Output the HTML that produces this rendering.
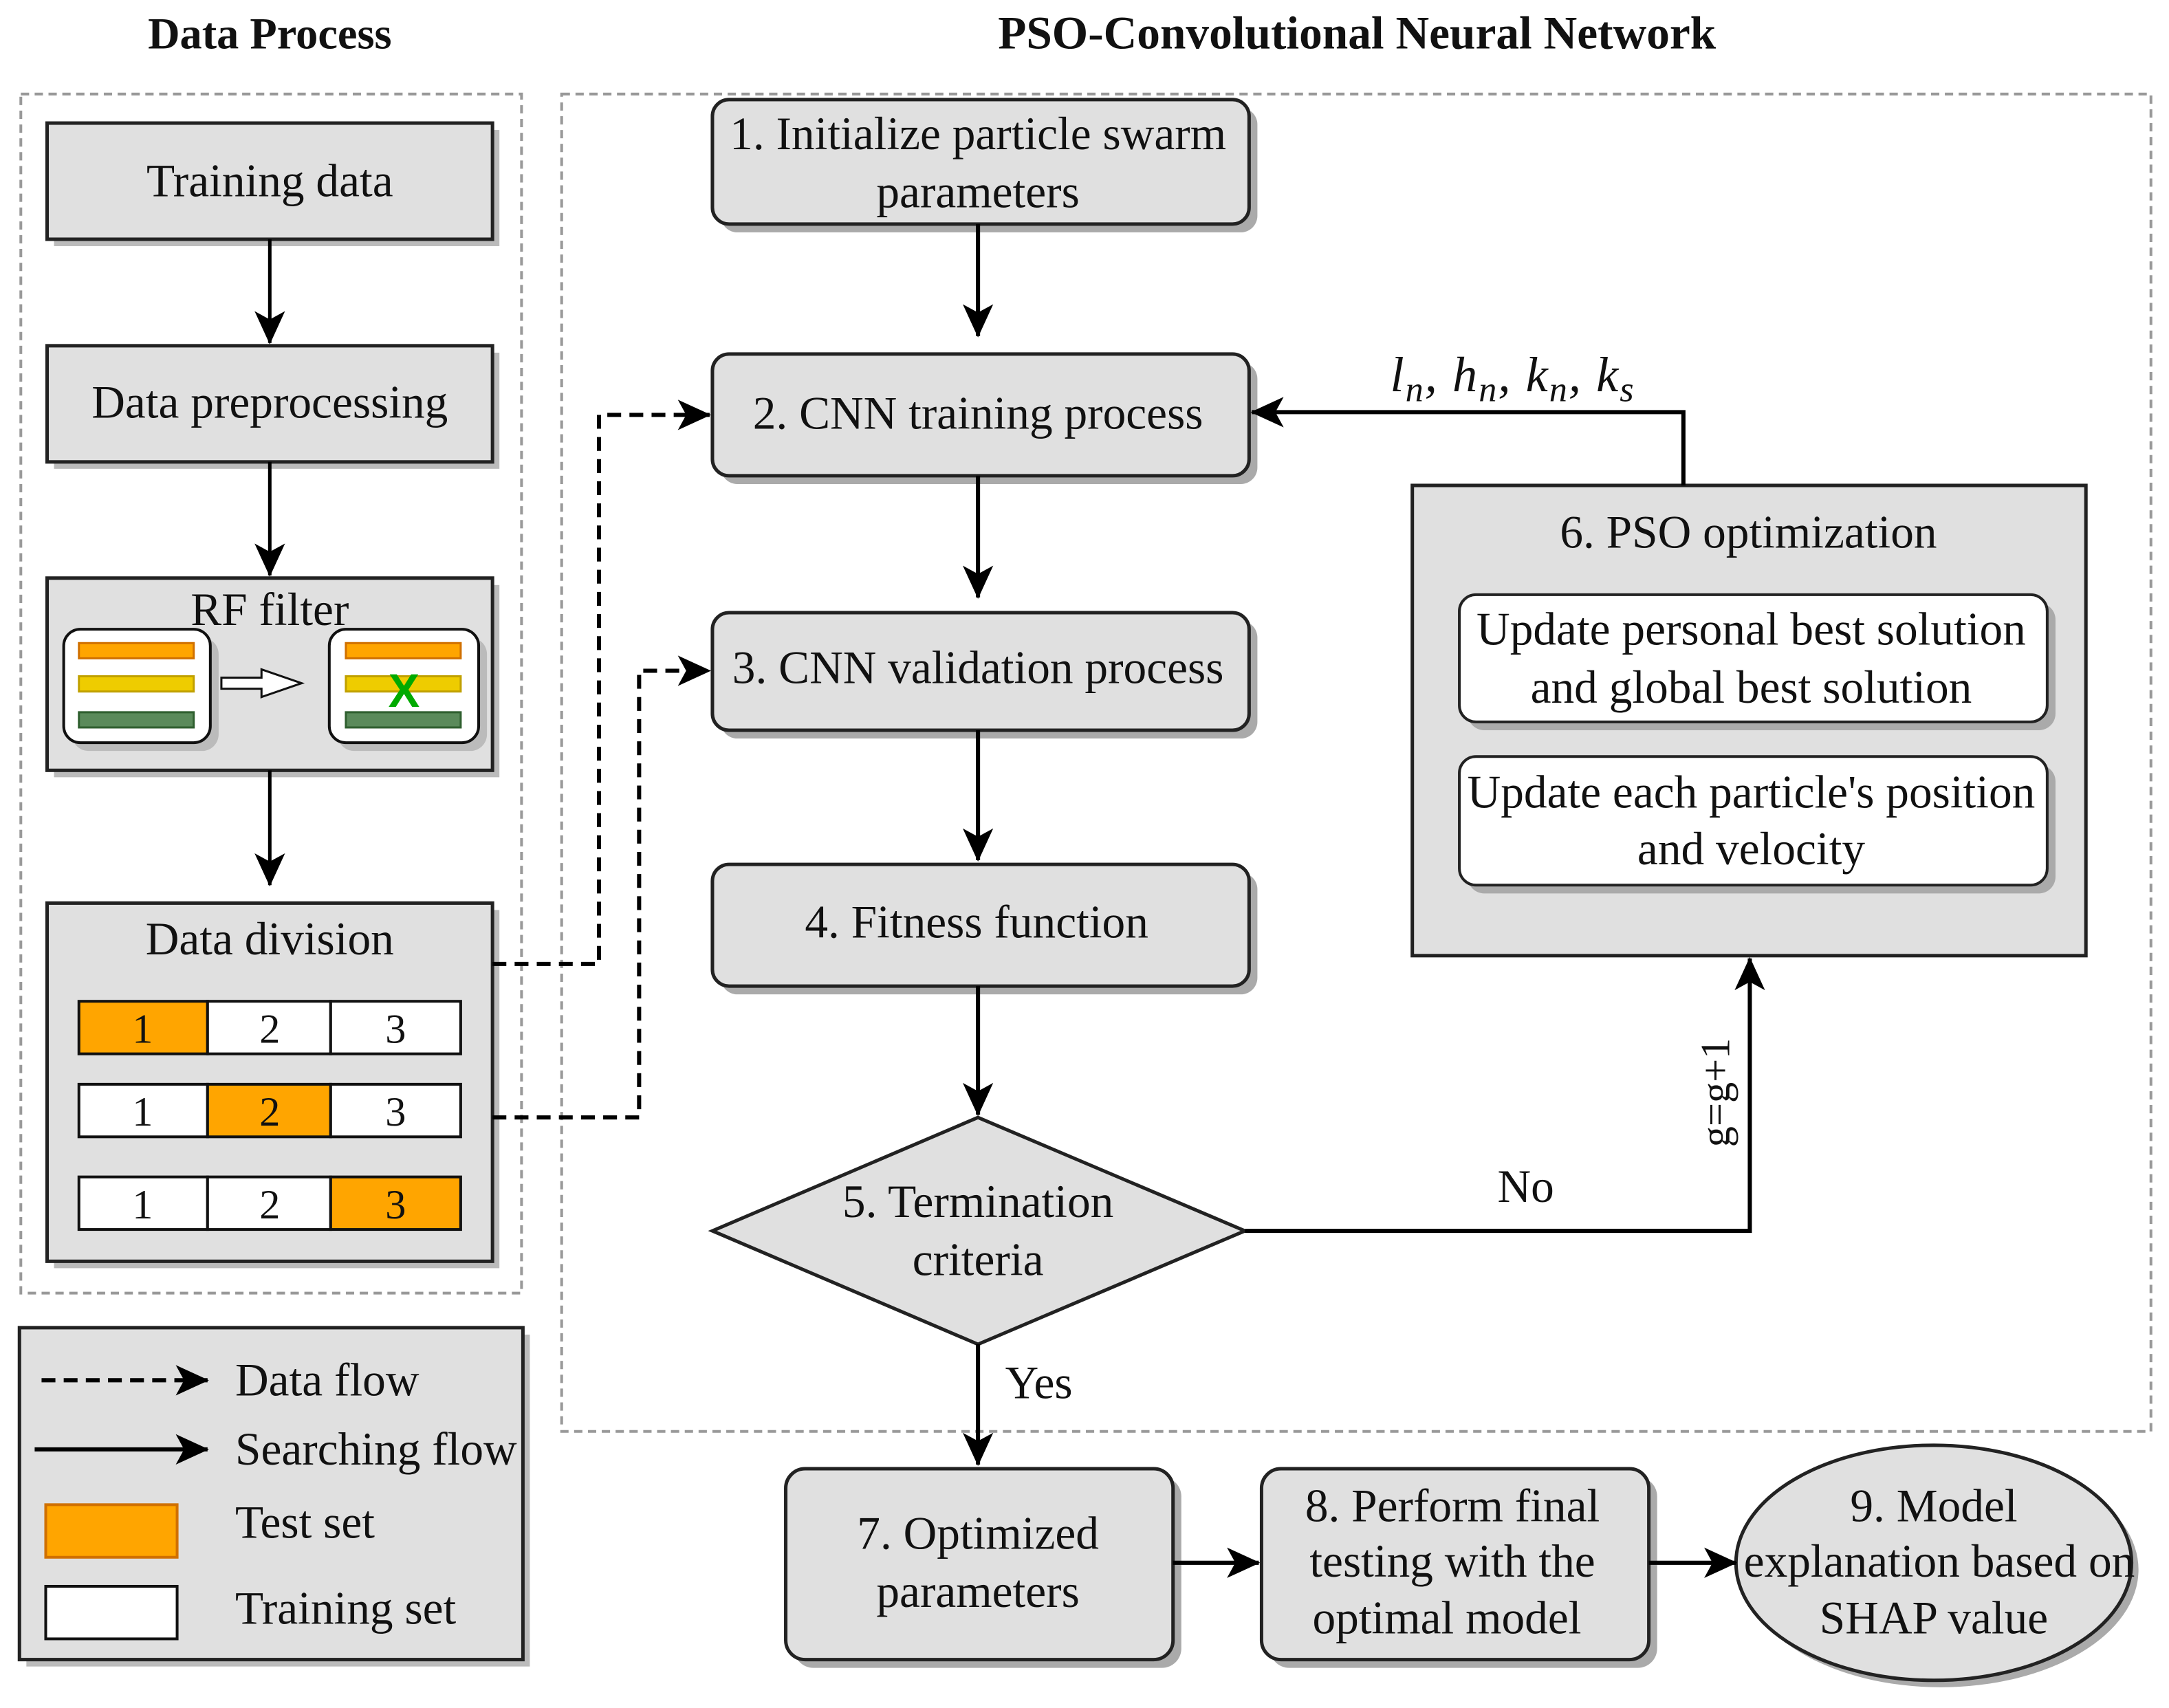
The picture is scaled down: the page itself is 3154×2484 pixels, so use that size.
<!DOCTYPE html>
<html><head><meta charset="utf-8"><style>
html,body{margin:0;padding:0;background:#fff}
svg{display:block}
text{font-family:"Liberation Serif",serif;fill:#111}
</style></head><body>
<svg width="3154" height="2484" viewBox="0 0 1568 1235" xmlns="http://www.w3.org/2000/svg">
<defs>
<marker id="ahb" markerWidth="24" markerHeight="22" refX="23" refY="11" orient="auto" markerUnits="userSpaceOnUse" viewBox="0 0 24 22">
<path d="M0,0 L24,11 L0,22 L6,11 z" fill="#000"/></marker>
</defs>
<g font-size="33.5">
<text x="195" y="35" text-anchor="middle" font-weight="bold" font-size="32">Data Process</text>
<text x="981" y="35" text-anchor="middle" font-weight="bold" font-size="33.5">PSO-Convolutional Neural Network</text>

<rect x="15" y="68" width="362" height="867" fill="none" stroke="#999" stroke-width="2" stroke-dasharray="6,4"/>
<rect x="406" y="68" width="1149" height="967" fill="none" stroke="#999" stroke-width="2" stroke-dasharray="6,4"/>

<g stroke="#222" stroke-width="2.5" fill="#e0e0e0">
<rect x="39" y="94" width="322" height="84" fill="#bbb" stroke="none"/>
<rect x="34" y="89" width="322" height="84"/>
<rect x="39" y="255" width="322" height="84" fill="#bbb" stroke="none"/>
<rect x="34" y="250" width="322" height="84"/>
<rect x="39" y="423" width="322" height="139" fill="#bbb" stroke="none"/>
<rect x="34" y="418" width="322" height="139"/>
<rect x="39" y="658" width="322" height="259" fill="#bbb" stroke="none"/>
<rect x="34" y="653" width="322" height="259"/>
</g>
<text x="195" y="142" text-anchor="middle">Training data</text>
<text x="195" y="302" text-anchor="middle">Data preprocessing</text>
<text x="195" y="452" text-anchor="middle">RF filter</text>
<text x="195" y="690" text-anchor="middle">Data division</text>

<rect x="52" y="461" width="106" height="82" rx="12" fill="#bbb"/>
<rect x="46" y="455" width="106" height="82" rx="12" fill="#fff" stroke="#111" stroke-width="2"/>
<rect x="244" y="461" width="108" height="82" rx="12" fill="#bbb"/>
<rect x="238" y="455" width="108" height="82" rx="12" fill="#fff" stroke="#111" stroke-width="2"/>
<g stroke-width="1.5">
<rect x="57" y="465" width="83" height="11" fill="#ffa500" stroke="#d07000"/>
<rect x="57" y="489" width="83" height="11" fill="#eecc00" stroke="#c0a000"/>
<rect x="57" y="515" width="83" height="11" fill="#5a8a5a" stroke="#2f5f2f"/>
<rect x="250" y="465" width="83" height="11" fill="#ffa500" stroke="#d07000"/>
<rect x="250" y="489" width="83" height="11" fill="#eecc00" stroke="#c0a000"/>
<rect x="250" y="515" width="83" height="11" fill="#5a8a5a" stroke="#2f5f2f"/>
</g>
<text x="292" y="511" text-anchor="middle" font-weight="bold" font-size="34" style="fill:#0a0;font-family:'Liberation Sans',sans-serif">X</text>
<path d="M160,490 L189,490 L189,484 L218,494 L189,504 L189,498 L160,498 z" fill="#fff" stroke="#111" stroke-width="1.5"/>

<g stroke="#111" stroke-width="2">
<rect x="57" y="724" width="93" height="38" fill="#ffa500"/><rect x="150" y="724" width="89" height="38" fill="#fff"/><rect x="239" y="724" width="94" height="38" fill="#fff"/>
<rect x="57" y="784" width="93" height="38" fill="#fff"/><rect x="150" y="784" width="89" height="38" fill="#ffa500"/><rect x="239" y="784" width="94" height="38" fill="#fff"/>
<rect x="57" y="851" width="93" height="38" fill="#fff"/><rect x="150" y="851" width="89" height="38" fill="#fff"/><rect x="239" y="851" width="94" height="38" fill="#ffa500"/>
</g>
<g text-anchor="middle" font-size="30">
<text x="103" y="754">1</text><text x="195" y="754">2</text><text x="286" y="754">3</text>
<text x="103" y="814">1</text><text x="195" y="814">2</text><text x="286" y="814">3</text>
<text x="103" y="881">1</text><text x="195" y="881">2</text><text x="286" y="881">3</text>
</g>

<g stroke="#000" stroke-width="2.5" fill="none">
<line x1="195" y1="173" x2="195" y2="248" marker-end="url(#ahb)"/>
<line x1="195" y1="334" x2="195" y2="416" marker-end="url(#ahb)"/>
<line x1="195" y1="557" x2="195" y2="640" marker-end="url(#ahb)"/>
</g>

<rect x="19" y="965" width="364" height="240" fill="#bbb"/>
<rect x="14" y="960" width="364" height="240" fill="#e0e0e0" stroke="#222" stroke-width="2.5"/>
<line x1="30" y1="998" x2="150" y2="998" stroke="#000" stroke-width="3" stroke-dasharray="10,6" marker-end="url(#ahb)"/>
<line x1="25" y1="1048" x2="150" y2="1048" stroke="#000" stroke-width="3" marker-end="url(#ahb)"/>
<rect x="33" y="1088" width="95" height="38" fill="#ffa500" stroke="#d07000" stroke-width="2"/>
<rect x="33" y="1147" width="95" height="38" fill="#fff" stroke="#111" stroke-width="2"/>
<text x="170" y="1009">Data flow</text>
<text x="170" y="1059">Searching flow</text>
<text x="170" y="1112">Test set</text>
<text x="170" y="1174">Training set</text>

<g stroke="#222" stroke-width="2.5" fill="#e0e0e0">
<rect x="521" y="78" width="388" height="90" rx="12" fill="#aaa" stroke="none"/>
<rect x="515" y="72" width="388" height="90" rx="12"/>
<rect x="521" y="262" width="388" height="88" rx="12" fill="#aaa" stroke="none"/>
<rect x="515" y="256" width="388" height="88" rx="12"/>
<rect x="521" y="449" width="388" height="85" rx="12" fill="#aaa" stroke="none"/>
<rect x="515" y="443" width="388" height="85" rx="12"/>
<rect x="521" y="631" width="388" height="88" rx="12" fill="#aaa" stroke="none"/>
<rect x="515" y="625" width="388" height="88" rx="12"/>
<path d="M707,808 L900,890 L707,972 L515,890 z"/>
<rect x="574" y="1068" width="280" height="138" rx="14" fill="#aaa" stroke="none"/>
<rect x="568" y="1062" width="280" height="138" rx="14"/>
<rect x="918" y="1068" width="280" height="138" rx="14" fill="#aaa" stroke="none"/>
<rect x="912" y="1062" width="280" height="138" rx="14"/>
<ellipse cx="1403" cy="1135" rx="143" ry="85" fill="#aaa" stroke="none"/>
<ellipse cx="1398" cy="1130" rx="143" ry="85"/>
<rect x="1021" y="351" width="487" height="340"/>
</g>
<g stroke="#222" stroke-width="2" fill="#fff">
<rect x="1061" y="436" width="425" height="92" rx="12" fill="#aaa" stroke="none"/>
<rect x="1055" y="430" width="425" height="92" rx="12"/>
<rect x="1061" y="553" width="425" height="93" rx="12" fill="#aaa" stroke="none"/>
<rect x="1055" y="547" width="425" height="93" rx="12"/>
</g>
<g text-anchor="middle">
<text x="707" y="108">1. Initialize particle swarm</text>
<text x="707" y="150">parameters</text>
<text x="707" y="310">2. CNN training process</text>
<text x="707" y="494">3. CNN validation process</text>
<text x="706" y="678">4. Fitness function</text>
<text x="707" y="880">5. Termination</text>
<text x="707" y="922">criteria</text>
<text x="707" y="1120">7. Optimized</text>
<text x="707" y="1162">parameters</text>
<text x="1050" y="1100">8. Perform final</text>
<text x="1050" y="1140">testing with the</text>
<text x="1046" y="1181">optimal model</text>
<text x="1398" y="1100">9. Model</text>
<text x="1402" y="1140">explanation based on</text>
<text x="1398" y="1181">SHAP value</text>
<text x="1264" y="396">6. PSO optimization</text>
<text x="1266" y="466">Update personal best solution</text>
<text x="1266" y="508">and global best solution</text>
<text x="1266" y="584">Update each particle's position</text>
<text x="1266" y="625">and velocity</text>
</g>
<text x="1103" y="869" text-anchor="middle">No</text>
<text x="751" y="1011" text-anchor="middle">Yes</text>
<text x="0" y="0" transform="translate(1250,790) rotate(-90)" text-anchor="middle" font-size="30">g=g+1</text>
<text x="1005" y="283" font-style="italic" font-size="36" letter-spacing="1">l<tspan font-size="26" dy="7">n</tspan><tspan dy="-7">, h</tspan><tspan font-size="26" dy="7">n</tspan><tspan dy="-7">, k</tspan><tspan font-size="26" dy="7">n</tspan><tspan dy="-7">, k</tspan><tspan font-size="26" dy="7">s</tspan></text>

<g stroke="#000" stroke-width="3" fill="none">
<line x1="707" y1="162" x2="707" y2="243" marker-end="url(#ahb)"/>
<line x1="707" y1="344" x2="707" y2="432" marker-end="url(#ahb)"/>
<line x1="707" y1="528" x2="707" y2="622" marker-end="url(#ahb)"/>
<line x1="707" y1="713" x2="707" y2="806" marker-end="url(#ahb)"/>
<line x1="707" y1="972" x2="707" y2="1059" marker-end="url(#ahb)"/>
<polyline points="1217,351 1217,298 905,298" marker-end="url(#ahb)"/>
<polyline points="900,890 1265,890 1265,693" marker-end="url(#ahb)"/>
<line x1="848" y1="1130" x2="910" y2="1130" marker-end="url(#ahb)"/>
<line x1="1192" y1="1130" x2="1255" y2="1130" marker-end="url(#ahb)"/>
<polyline points="356,697 433,697 433,300 513,300" stroke-dasharray="10,6" marker-end="url(#ahb)"/>
<polyline points="356,808 462,808 462,485 513,485" stroke-dasharray="10,6" marker-end="url(#ahb)"/>
</g>
</g>
</svg>
</body></html>
